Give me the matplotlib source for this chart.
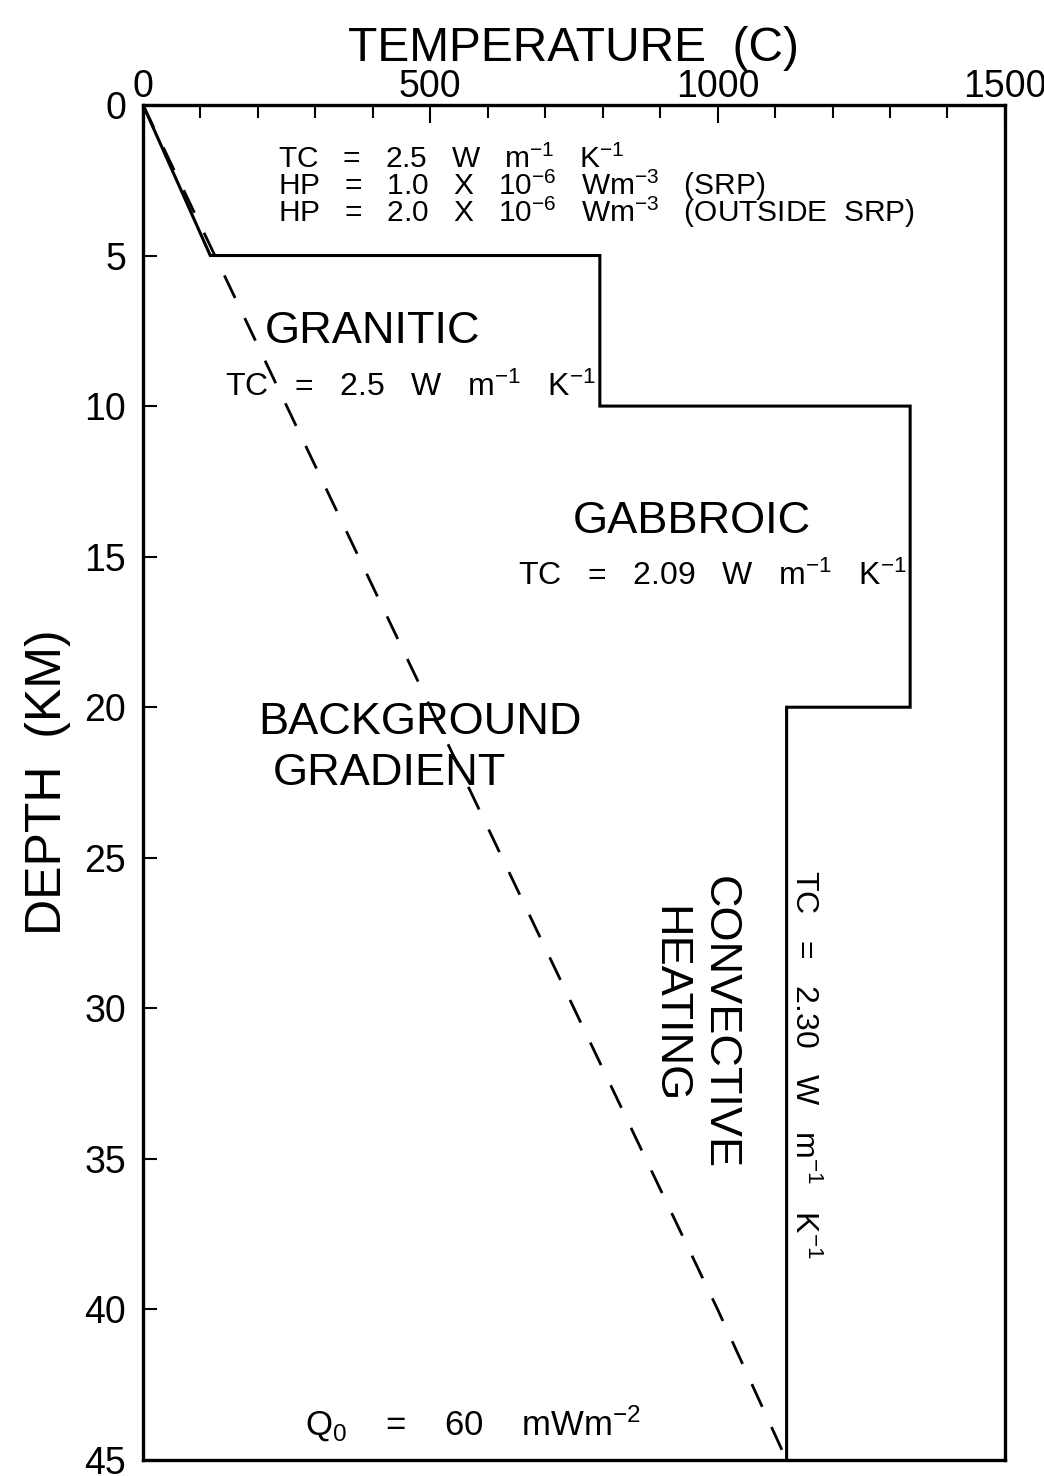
import numpy as np
import matplotlib
matplotlib.use("Agg")
import matplotlib.pyplot as plt

plt.rcParams['font.family'] = ['Liberation Sans', 'DejaVu Sans']
plt.rcParams['mathtext.default'] = 'regular'

# model profile (convective heating), temperature in C vs depth in km
model_temp = [0, 117, 795, 795, 1335, 1335, 1120, 1120]
model_depth = [0, 5, 5, 10, 10, 20, 20, 45]

# background gradient
bg_temp = [0, 125, 250, 375, 500, 625, 750, 875, 1000, 1120]
bg_depth = [0, 5, 10, 15, 20, 25, 30, 35, 40, 45]

fig = plt.figure(figsize=(10.44, 14.76), dpi=100)
ax = fig.add_axes([0.137, 0.0108, 0.8256, 0.9181])

ax.plot(model_temp, model_depth, color="black", lw=2.2, solid_joinstyle="miter")
ax.plot(bg_temp, bg_depth, color="black", lw=2.0, dashes=(9, 8))

ax.set_xlim(0, 1500)
ax.set_ylim(45, 0)

ax.xaxis.tick_top()
ax.xaxis.set_label_position("top")
ax.set_xticks([0, 500, 1000, 1500])
ax.set_xticks(np.arange(0, 1501, 100), minor=True)
ax.set_yticks(np.arange(0, 46, 5))
ax.tick_params(axis="x", which="major", direction="in", length=13, width=1.5,
               labelsize=27, pad=0, bottom=False, top=True)
ax.tick_params(axis="x", which="minor", direction="in", length=9, width=1.5,
               bottom=False, top=True)
ax.tick_params(axis="y", which="major", direction="in", length=10, width=1.5,
               labelsize=27, pad=12, right=False)
for s in ax.spines.values():
    s.set_linewidth(2.4)

ax.set_xlabel("TEMPERATURE  (C)", fontsize=34.5, labelpad=6)
ax.set_ylabel("DEPTH  (KM)", fontsize=36, labelpad=10)

head = 21.5
tc = 23
big = 32.5
ax.text(235, 2.09, r"TC   =   2.5   W   m$^{-1}$   K$^{-1}$", fontsize=head, va="baseline")
ax.text(235, 2.99, r"HP   =   1.0   X   10$^{-6}$   Wm$^{-3}$   (SRP)", fontsize=head, va="baseline")
ax.text(235, 3.89, r"HP   =   2.0   X   10$^{-6}$   Wm$^{-3}$   (OUTSIDE  SRP)", fontsize=head, va="baseline")

ax.text(212, 7.9, "GRANITIC", fontsize=big, va="baseline")
ax.text(143, 9.66, r"TC   =   2.5   W   m$^{-1}$   K$^{-1}$", fontsize=tc, va="baseline")

ax.text(748, 14.2, "GABBROIC", fontsize=big, va="baseline")
ax.text(652, 15.94, r"TC   =   2.09   W   m$^{-1}$   K$^{-1}$", fontsize=tc, va="baseline")

ax.text(200, 20.9, "BACKGROUND", fontsize=big, va="baseline")
ax.text(225, 22.58, "GRADIENT", fontsize=big, va="baseline")

ax.text(1003, 25.6, "CONVECTIVE", fontsize=big, rotation=270, ha="center", va="top")
ax.text(915, 26.6, "HEATING", fontsize=big, rotation=270, ha="center", va="top")
ax.text(1150, 25.4, r"TC   =   2.30   W   m$^{-1}$   K$^{-1}$", fontsize=tc, rotation=270,
        ha="center", va="top")

ax.text(282, 44.2, r"Q$_0$    =    60    mWm$^{-2}$", fontsize=25, va="baseline")

fig.savefig("out.png", dpi=100)
